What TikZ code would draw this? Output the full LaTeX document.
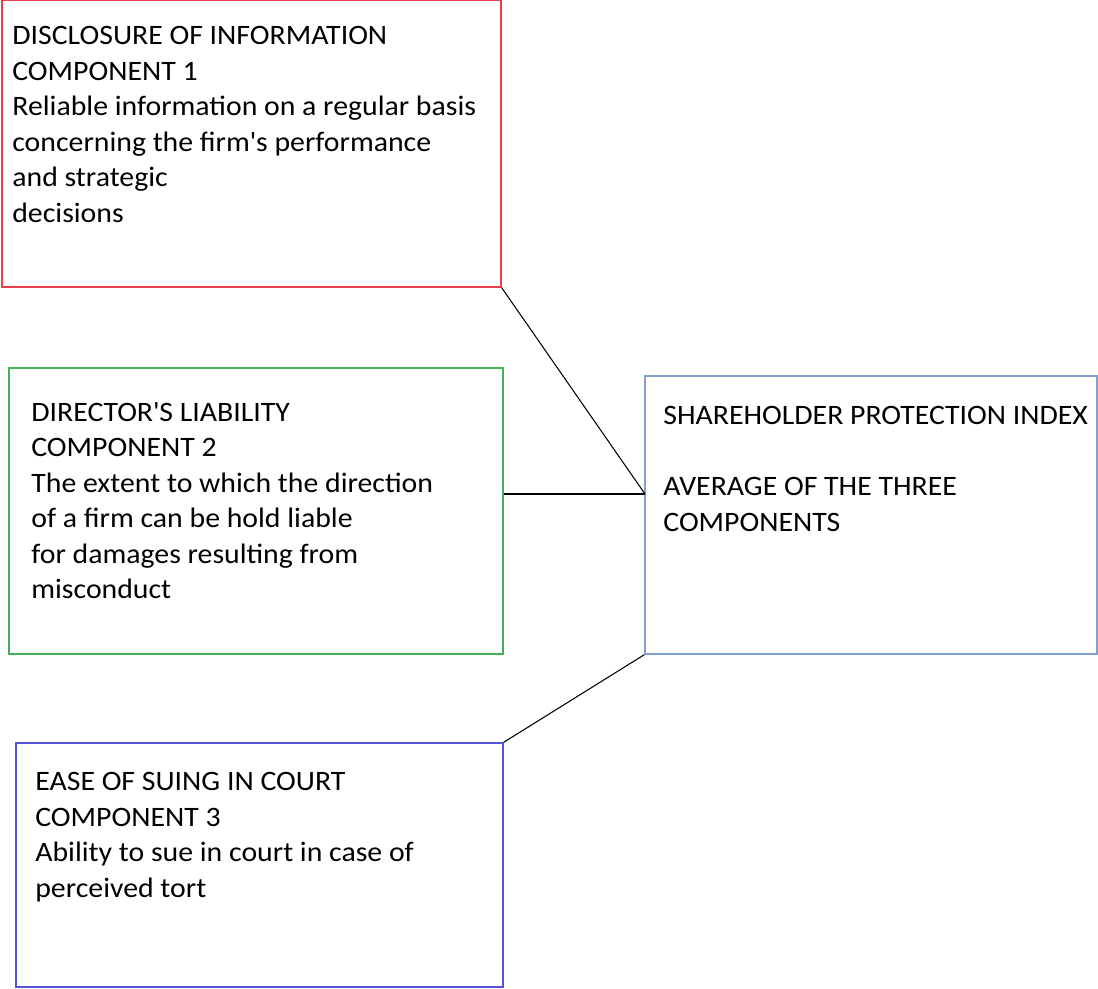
\documentclass[tikz,border=0pt]{standalone}
\usepackage{fontspec}
\setmainfont{Carlito}[FakeStretch=1.06]
\usepackage{xcolor}
\usetikzlibrary{positioning,calc}
\definecolor{boxred}{RGB}{232,64,74}
\definecolor{boxgreen}{RGB}{64,180,84}
\definecolor{boxsky}{RGB}{132,160,208}
\definecolor{boxblue}{RGB}{84,84,216}

\begin{document}
\begin{tikzpicture}[x=0.02cm,y=-0.02cm,
  comp/.style={draw,line width=0.8pt,inner sep=0pt},
  txt/.style={align=left,anchor=north west,inner sep=0pt,font=\fontsize{16}{20.2}\selectfont},
  link/.style={draw=black,line width=0.6pt}
]
  \useasboundingbox (0,0) rectangle (1098,989);
  \node[comp,draw=boxred,minimum width=9.98cm,minimum height=5.74cm] (disc) at (251.5,143.5) {};
  \node[comp,draw=boxgreen,minimum width=9.88cm,minimum height=5.72cm] (dir) at (256,511) {};
  \node[comp,draw=boxsky,minimum width=9.04cm,minimum height=5.56cm] (spi) at (871,515) {};
  \node[comp,draw=boxblue,minimum width=9.74cm,minimum height=4.88cm] (ease) at (259.5,865) {};
  \node[txt] (disct) at (12,26) {DISCLOSURE OF INFORMATION\\COMPONENT 1\\Reliable information on a regular basis\\concerning the firm\textquotesingle s performance\\and strategic\\decisions};
  \node[txt] (dirt) at (31,402) {DIRECTOR\textquotesingle S LIABILITY\\COMPONENT 2\\The extent to which the direction\\of a firm can be hold liable\\for damages resulting from\\misconduct};
  \node[txt] (spit) at (663,406) {SHAREHOLDER PROTECTION INDEX\\[20.2pt]AVERAGE OF THE THREE\\COMPONENTS};
  \node[txt] (easet) at (35,772) {EASE OF SUING IN COURT\\COMPONENT 3\\Ability to sue in court in case of\\perceived tort};
  \coordinate (join) at (645,494);
  \draw[link] (disc.south east) -- (join);
  \draw[link] (dir.east |- join) -- (join);
  \draw[link] (spi.south west) -- (ease.north east);
\end{tikzpicture}
\end{document}
